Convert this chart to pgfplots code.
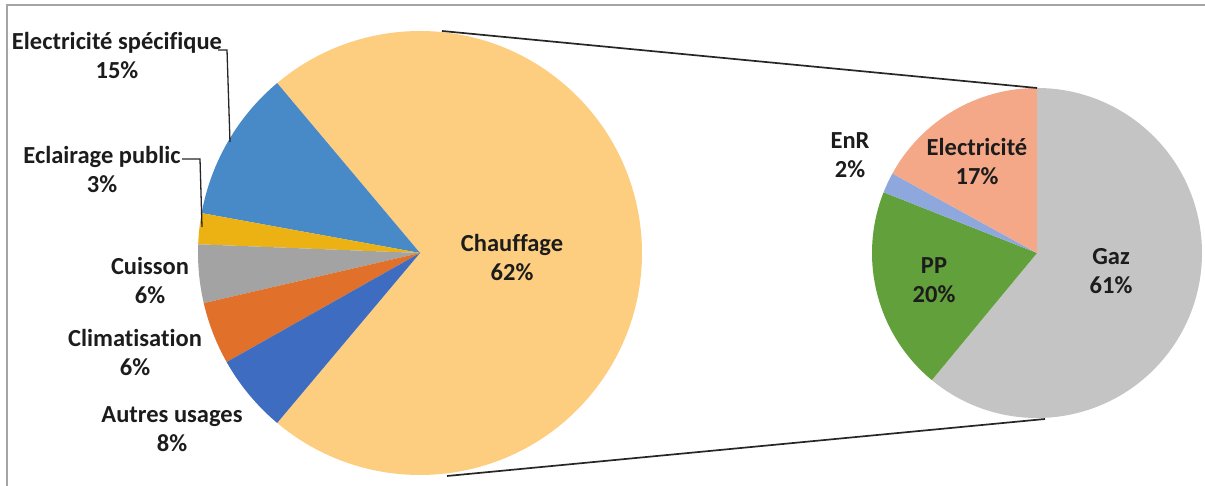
\documentclass[border=0pt]{standalone}
\usepackage{fontspec}
\setmainfont{Carlito}[Ligatures=NoCommon]
\usepackage{pgfplots}
\pgfplotsset{compat=1.18}

\definecolor{cChauf}{RGB}{254,206,128}
\definecolor{cElec}{RGB}{72,137,200}
\definecolor{cEcl}{RGB}{236,178,20}
\definecolor{cCuis}{RGB}{163,163,163}
\definecolor{cClim}{RGB}{224,112,42}
\definecolor{cAutr}{RGB}{62,108,192}
\definecolor{cGaz}{RGB}{196,196,196}
\definecolor{cPP}{RGB}{98,160,60}
\definecolor{cEnR}{RGB}{142,168,222}
\definecolor{cElc}{RGB}{244,168,136}
\definecolor{cTxt}{RGB}{28,28,28}
\definecolor{cFrame}{RGB}{165,165,165}

\tikzset{lbl/.style={font=\bfseries\fontsize{24.5}{29}\selectfont, text=cTxt, align=center, inner sep=0pt}}

% left pie: share of the drawn pie (%)
\def\vChauf{72.25}
\def\vElec{11.0}
\def\vEcl{2.25}
\def\vCuis{4.25}
\def\vClim{4.55}
\def\vAutr{5.7}
% right pie (%)
\def\vGaz{61}
\def\vPP{20}
\def\vEnR{2}
\def\vElc{17}

% \sector{cx}{cy}{r}{start angle}{end angle}{colour}
\newcommand{\sector}[6]{\fill[#6] (axis cs:#1,#2) -- ++(#4:#3pt) arc[start angle=#4,end angle=#5,radius=#3pt] -- cycle;}

\begin{document}%
\begin{tikzpicture}
\pgfmathsetmacro\aA{-1.8*\vChauf}
\pgfmathsetmacro\aB{\aA+3.6*\vChauf}
\pgfmathsetmacro\aC{\aB+3.6*\vElec}
\pgfmathsetmacro\aD{\aC+3.6*\vEcl}
\pgfmathsetmacro\aE{\aD+3.6*\vCuis}
\pgfmathsetmacro\aF{\aE+3.6*\vClim}
\pgfmathsetmacro\aG{\aF+3.6*\vAutr}
\pgfmathsetmacro\bA{90}
\pgfmathsetmacro\bB{\bA-3.6*\vGaz}
\pgfmathsetmacro\bC{\bB-3.6*\vPP}
\pgfmathsetmacro\bD{\bC-3.6*\vEnR}
\pgfmathsetmacro\bE{\bD-3.6*\vElc}
\begin{axis}[
  width=1205pt, height=486pt, scale only axis,
  xmin=0, xmax=1205, ymin=0, ymax=486,
  hide axis, clip=false,
]
\coordinate (SW) at (rel axis cs:0,0);
\coordinate (NE) at (rel axis cs:1,1);
% frame
\draw[cFrame, line width=1.4pt] (axis cs:7,0) -- (axis cs:7,481) -- (axis cs:1205,481);
% left pie
\sector{420}{233}{222}{\aA}{\aB}{cChauf}
\sector{420}{233}{222}{\aB}{\aC}{cElec}
\sector{420}{233}{222}{\aC}{\aD}{cEcl}
\sector{420}{233}{222}{\aD}{\aE}{cCuis}
\sector{420}{233}{222}{\aE}{\aF}{cClim}
\sector{420}{233}{222}{\aF}{\aG}{cAutr}
% right pie
\sector{1037}{233}{165}{\bB}{\bA}{cGaz}
\sector{1037}{233}{165}{\bC}{\bB}{cPP}
\sector{1037}{233}{165}{\bD}{\bC}{cEnR}
\sector{1037}{233}{165}{\bE}{\bD}{cElc}
% connectors
\draw[black!85, line width=1.7pt] (axis cs:442,455) -- (axis cs:1037,398);
\draw[black!85, line width=1.7pt] (axis cs:447,10) -- (axis cs:1045,67);
% leader lines
\draw[black!85, line width=1.3pt] (axis cs:218,436) -- (axis cs:227,436) -- (axis cs:230,344);
\draw[black!85, line width=1.3pt] (axis cs:182,327) -- (axis cs:200,327) -- (axis cs:202,259);
% labels
\node[lbl] at (axis cs:117,430) {Electricité spécifique\\15\%};
\node[lbl] at (axis cs:102,316) {Eclairage public\\3\%};
\node[lbl] at (axis cs:150,205) {Cuisson\\6\%};
\node[lbl] at (axis cs:135,133) {Climatisation\\6\%};
\node[lbl] at (axis cs:172,57) {Autres usages\\8\%};
\node[lbl] at (axis cs:512,228) {Chauffage\\62\%};
\node[lbl] at (axis cs:850,331) {EnR\\2\%};
\node[lbl] at (axis cs:977,324) {Electricité\\17\%};
\node[lbl] at (axis cs:934,206) {PP\\20\%};
\node[lbl] at (axis cs:1111,215) {Gaz\\61\%};
\end{axis}
\pgfresetboundingbox
\path (SW) rectangle (NE);
\end{tikzpicture}%
\end{document}
